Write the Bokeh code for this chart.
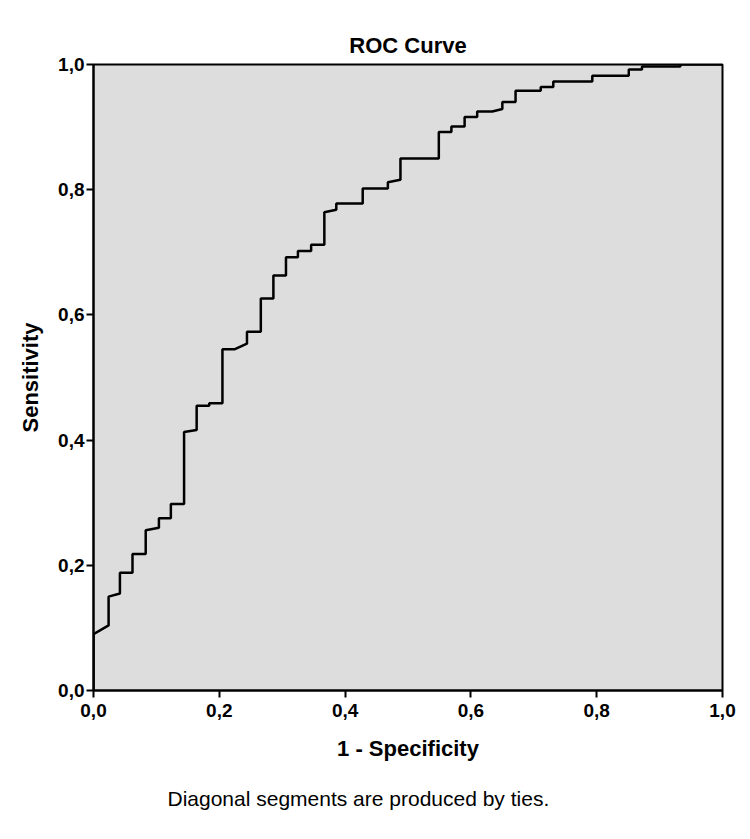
from bokeh.plotting import figure
from bokeh.models import Range1d, FixedTicker, CustomJSTickFormatter, Title
from bokeh.embed import file_html
from bokeh.resources import INLINE

# ROC curve vertices: false positive rate (1 - specificity) and sensitivity
fpr = [0.000, 0.000, 0.024, 0.024, 0.042, 0.042, 0.062, 0.062, 0.083, 0.083,
       0.104, 0.104, 0.123, 0.123, 0.144, 0.144, 0.164, 0.164, 0.184, 0.184,
       0.205, 0.205, 0.224, 0.244, 0.244, 0.266, 0.266, 0.286, 0.286, 0.306,
       0.306, 0.325, 0.325, 0.346, 0.346, 0.367, 0.367, 0.386, 0.386, 0.428,
       0.428, 0.468, 0.468, 0.488, 0.488, 0.549, 0.549, 0.569, 0.569, 0.590,
       0.590, 0.610, 0.610, 0.634, 0.650, 0.650, 0.671, 0.671, 0.711, 0.711,
       0.731, 0.731, 0.793, 0.793, 0.851, 0.851, 0.872, 0.872, 0.933, 0.933,
       1.000]
tpr = [0.000, 0.090, 0.104, 0.150, 0.155, 0.188, 0.188, 0.218, 0.218, 0.256,
       0.260, 0.275, 0.275, 0.298, 0.298, 0.413, 0.416, 0.455, 0.455, 0.459,
       0.459, 0.545, 0.545, 0.554, 0.573, 0.573, 0.626, 0.626, 0.663, 0.663,
       0.692, 0.692, 0.702, 0.702, 0.712, 0.712, 0.764, 0.768, 0.778, 0.778,
       0.802, 0.802, 0.812, 0.816, 0.850, 0.850, 0.892, 0.892, 0.901, 0.901,
       0.916, 0.916, 0.925, 0.925, 0.929, 0.940, 0.940, 0.958, 0.958, 0.964,
       0.964, 0.973, 0.973, 0.982, 0.982, 0.992, 0.992, 0.997, 0.997, 1.000,
       1.000]

ticks = [0.0, 0.2, 0.4, 0.6, 0.8, 1.0]

FONT = "Liberation Sans, Arial, Helvetica, sans-serif"

p = figure(width=750, height=839, output_backend="svg", toolbar_location=None,
           x_range=Range1d(0, 1), y_range=Range1d(0, 1),
           title="ROC Curve",
           min_border_left=93, min_border_right=28,
           min_border_top=64, min_border_bottom=149)

p.background_fill_color = "#dddddd"
p.border_fill_color = "white"
p.outline_line_color = "black"
p.outline_line_width = 2
p.grid.visible = False

p.title.align = "center"
p.title.text_font = FONT
p.title.text_font_size = "22px"
p.title.text_font_style = "bold"
p.title.text_color = "black"
p.title.standoff = 13

fmt = CustomJSTickFormatter(code="return tick.toFixed(1).replace('.', ',');")
for ax in (p.xaxis[0], p.yaxis[0]):
    ax.ticker = FixedTicker(ticks=ticks)
    ax.formatter = fmt
    ax.axis_line_color = "black"
    ax.axis_line_width = 2
    ax.major_tick_line_color = "black"
    ax.major_tick_line_width = 2
    ax.major_tick_out = 7
    ax.major_tick_in = 0
    ax.minor_tick_line_color = None
    ax.major_label_text_font = FONT
    ax.major_label_text_font_size = "19px"
    ax.major_label_text_font_style = "bold"
    ax.major_label_text_color = "black"
    ax.axis_label_text_font = FONT
    ax.axis_label_text_font_size = "22px"
    ax.axis_label_text_font_style = "bold"
    ax.axis_label_text_color = "black"

p.xaxis.axis_label = "1 - Specificity"
p.yaxis.axis_label = "Sensitivity"
p.xaxis.major_label_standoff = 6
p.yaxis.major_label_standoff = 2
p.xaxis.axis_label_standoff = 16
p.yaxis.axis_label_standoff = 12

p.line(fpr, tpr, line_color="black", line_width=2.5)

# footnote under the x axis
note = Title(text="Diagonal segments are produced by ties.", align="left",
             offset=74, standoff=42,
             text_font=FONT, text_font_size="21px", text_font_style="normal",
             text_color="black")
p.add_layout(note, "below")

open("out.html", "w").write(file_html(p, INLINE))
